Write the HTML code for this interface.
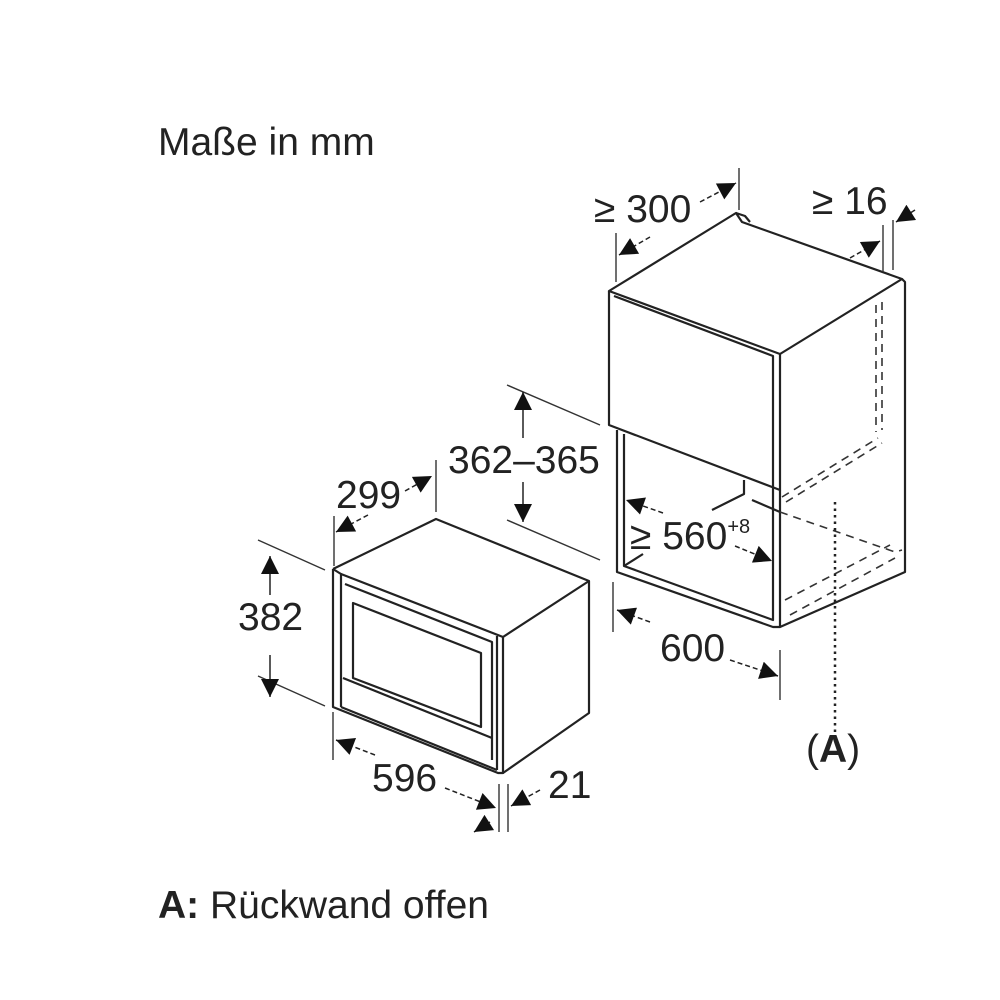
<!DOCTYPE html>
<html><head><meta charset="utf-8"><style>
html,body{margin:0;padding:0;background:#fff;}
svg{display:block;}
text{font-family:"Liberation Sans",sans-serif;fill:#222;font-size:39px;}
</style></head><body>
<svg width="1000" height="1000" viewBox="0 0 1000 1000" xmlns="http://www.w3.org/2000/svg">
<defs>
<marker id="ah" viewBox="0 0 10 10" refX="10" refY="5" markerWidth="20" markerHeight="18" markerUnits="userSpaceOnUse" orient="auto"><path d="M0,0 L10,5 L0,10 z" fill="#111"/></marker>
</defs>
<rect width="1000" height="1000" fill="#fff"/>
<text x="158" y="155">Maße in mm</text>
<text x="158" y="918"><tspan font-weight="bold">A:</tspan> Rückwand offen</text>
<text x="806" y="762"><tspan>(</tspan><tspan font-weight="bold">A</tspan><tspan>)</tspan></text>

<g stroke="#222" stroke-width="2.2" fill="none" stroke-linejoin="round">
<path d="M333,569 L436,519 L589,581 L589,713 L503,773"/>
<path d="M341,574 L503,637 L589,581"/>
<path d="M333,569 L341,574 L341,707 M333,569 L333,707 L498,773 L503,773 L503,637"/>
<path d="M497,636 L497,770"/>
<path d="M341,707 L497,770"/>
<path d="M353,603 L481,653 L481,727 L353,678 Z"/>
<path d="M343,678 L492,738"/>
<path d="M345,584 L492,642 L492,760"/>
<path d="M609,291 L736,213 L742,222 L902,279 L780,354 Z"/>
<path d="M736,213 L745,216 L750,222"/>
<path d="M609,291 L609,425 L780,490 L780,354"/>
<path d="M614,296 L773,356 L773,490"/>
<path d="M902,279 L905,282 L905,572 L780,627 L773,627 L617,572 L617,430"/>
<path d="M624,434 L624,566 L773,620 L773,490"/>
<path d="M624,566 L643,554"/>
<path d="M780,490 L780,627"/>
<path d="M712,510 L744,494 L744,480 M752,500 L780,512"/>
</g>
<g stroke="#333" stroke-width="1.6" fill="none" stroke-dasharray="8,6">
<path d="M876,305 L876,432 M882,302 L882,430"/>
<path d="M782,497 L878,438 M786,502 L882,443"/>
<path d="M780,512 L895,552 L902,550"/>
<path d="M790,615 L895,558"/>
<path d="M785,600 L890,545"/>
</g>
<path d="M835,502 L835,732" stroke="#222" stroke-width="2.5" stroke-dasharray="2.5,4" fill="none"/>

<g stroke="#333" stroke-width="1.4" fill="none">
<path d="M258,540 L325,570 M258,676 L325,706"/>
<path d="M334,516 L334,566 M436,460 L436,512"/>
<path d="M507,385 L600,425 M507,520 L600,560"/>
<path d="M333,712 L333,760 M499,784 L499,832 M508,784 L508,832"/>
<path d="M616,233 L616,282 M739,168 L739,210"/>
<path d="M883,225 L883,272 M893,220 L893,270"/>
<path d="M613,582 L613,632 M780,650 L780,700"/>
</g>
<g stroke="#222" stroke-width="1.5" fill="none">
<path d="M270,595 L270,556" marker-end="url(#ah)"/>
<path d="M270,655 L270,697" marker-end="url(#ah)"/>
<path d="M523,438 L523,392" marker-end="url(#ah)"/>
<path d="M523,482 L523,522" marker-end="url(#ah)"/>
<path d="M368,515 L336,532" stroke-dasharray="5,3" marker-end="url(#ah)"/>
<path d="M405,491 L432,476" stroke-dasharray="5,3" marker-end="url(#ah)"/>
<path d="M375,755 L336,740" stroke-dasharray="5,3" marker-end="url(#ah)"/>
<path d="M445,788 L496,808" stroke-dasharray="5,3" marker-end="url(#ah)"/>
<path d="M540,790 L511,806" stroke-dasharray="5,3" marker-end="url(#ah)"/>
<path d="M490,822 L474,832" marker-end="url(#ah)"/>
<path d="M650,237 L619,255" stroke-dasharray="5,3" marker-end="url(#ah)"/>
<path d="M700,202 L736,183" stroke-dasharray="5,3" marker-end="url(#ah)"/>
<path d="M850,258 L880,241" stroke-dasharray="5,3" marker-end="url(#ah)"/>
<path d="M915,210 L896,222" marker-end="url(#ah)"/>
<path d="M663,513 L626,500" stroke-dasharray="5,3" marker-end="url(#ah)"/>
<path d="M735,546 L772,561" stroke-dasharray="5,3" marker-end="url(#ah)"/>
<path d="M650,622 L617,610" stroke-dasharray="5,3" marker-end="url(#ah)"/>
<path d="M730,660 L778,676" stroke-dasharray="5,3" marker-end="url(#ah)"/>
</g>

<text x="238" y="630">382</text>
<text x="336" y="508">299</text>
<text x="448" y="473">362–365</text>
<text x="372" y="791">596</text>
<text x="548" y="798">21</text>
<text x="594" y="222">≥ 300</text>
<text x="812" y="214">≥ 16</text>
<text x="630" y="549">≥ 560<tspan font-size="20" dy="-16">+8</tspan></text>
<text x="660" y="661">600</text>
</svg>
</body></html>
